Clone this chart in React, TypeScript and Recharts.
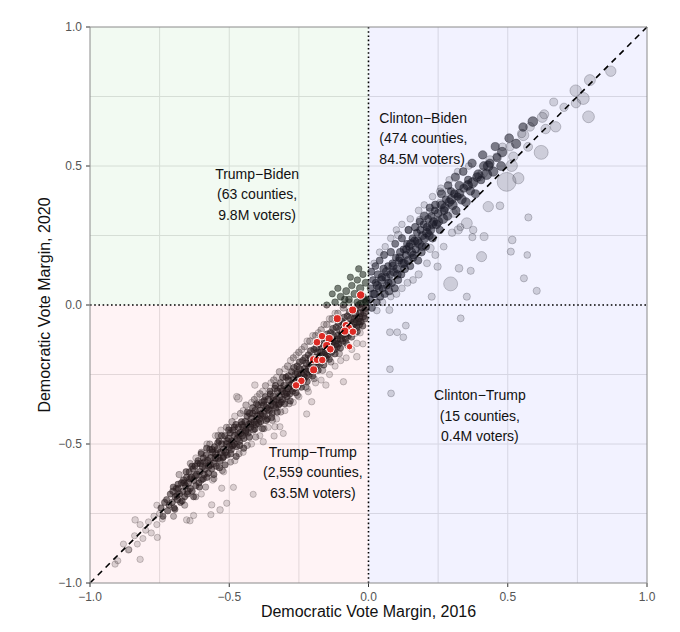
import React from 'react';
import {
  ScatterChart,
  Scatter,
  XAxis,
  YAxis,
  ZAxis,
  ReferenceArea,
  ReferenceLine,
  ReferenceDot,
} from 'recharts';

// [margin 2016, margin 2020, voters (thousands)]
type Pt = [number, number, number];

const ticks = [-1, -0.5, 0, 0.5, 1];
const gridValues = [-0.75, -0.5, -0.25, 0.25, 0.5, 0.75];

const trumpTrumpCore: Pt[] = [
  [-0.745, -0.73, 12], [-0.738, -0.76, 9], [-0.732, -0.71, 14],
  [-0.725, -0.70, 10], [-0.721, -0.74, 16], [-0.716, -0.72, 11], [-0.712, -0.68, 8],
  [-0.705, -0.71, 13], [-0.702, -0.67, 18], [-0.698, -0.73, 9], [-0.694, -0.69, 15], [-0.690, -0.66, 12],
  [-0.686, -0.70, 20], [-0.683, -0.66, 10], [-0.679, -0.68, 14], [-0.675, -0.71, 8], [-0.671, -0.64, 17],
  [-0.667, -0.67, 12], [-0.664, -0.63, 22], [-0.660, -0.69, 9], [-0.657, -0.65, 16], [-0.653, -0.62, 11], [-0.650, -0.68, 14],
  [-0.647, -0.64, 25], [-0.644, -0.60, 10], [-0.640, -0.66, 13], [-0.636, -0.62, 19], [-0.633, -0.67, 9], [-0.630, -0.59, 15],
  [-0.627, -0.63, 21], [-0.623, -0.58, 12], [-0.620, -0.65, 10], [-0.616, -0.61, 28], [-0.612, -0.56, 14], [-0.609, -0.64, 11],
  [-0.606, -0.60, 18], [-0.603, -0.57, 23], [-0.600, -0.63, 9], [-0.596, -0.58, 30], [-0.593, -0.55, 13], [-0.590, -0.61, 16],
  [-0.587, -0.59, 20], [-0.583, -0.54, 11], [-0.580, -0.62, 14], [-0.577, -0.56, 26], [-0.573, -0.58, 17], [-0.570, -0.52, 12],
  [-0.566, -0.55, 32], [-0.563, -0.59, 10], [-0.560, -0.53, 19], [-0.556, -0.57, 24], [-0.553, -0.51, 13], [-0.550, -0.55, 28],
  [-0.546, -0.58, 11], [-0.543, -0.52, 22], [-0.540, -0.55, 35], [-0.536, -0.49, 15], [-0.533, -0.56, 18], [-0.530, -0.53, 27],
  [-0.527, -0.50, 16], [-0.523, -0.55, 12], [-0.520, -0.52, 30], [-0.516, -0.47, 14], [-0.513, -0.53, 21], [-0.510, -0.50, 25],
  [-0.507, -0.54, 10], [-0.503, -0.48, 19], [-0.500, -0.51, 38], [-0.496, -0.46, 13], [-0.493, -0.52, 17], [-0.490, -0.49, 29],
  [-0.487, -0.45, 15], [-0.483, -0.50, 24], [-0.480, -0.47, 33], [-0.476, -0.43, 12], [-0.473, -0.51, 11], [-0.470, -0.48, 26],
  [-0.467, -0.44, 20], [-0.463, -0.49, 14], [-0.460, -0.46, 36], [-0.456, -0.42, 16], [-0.453, -0.47, 22], [-0.450, -0.44, 27],
  [-0.447, -0.48, 12], [-0.443, -0.42, 25], [-0.440, -0.45, 31], [-0.436, -0.40, 14], [-0.433, -0.46, 19], [-0.430, -0.43, 28],
  [-0.427, -0.39, 17], [-0.423, -0.44, 13], [-0.420, -0.41, 40], [-0.416, -0.37, 15], [-0.413, -0.45, 11], [-0.410, -0.42, 24],
  [-0.407, -0.38, 21], [-0.403, -0.43, 18], [-0.400, -0.40, 34], [-0.396, -0.36, 12], [-0.393, -0.41, 26], [-0.390, -0.38, 29],
  [-0.387, -0.42, 14], [-0.383, -0.35, 20], [-0.380, -0.39, 37], [-0.376, -0.36, 23], [-0.373, -0.40, 16], [-0.370, -0.33, 13],
  [-0.367, -0.37, 32], [-0.363, -0.41, 11], [-0.360, -0.34, 25], [-0.356, -0.38, 28], [-0.353, -0.32, 15], [-0.350, -0.36, 22],
  [-0.346, -0.39, 12], [-0.343, -0.33, 27], [-0.340, -0.36, 42], [-0.336, -0.30, 17], [-0.333, -0.37, 19], [-0.330, -0.34, 30],
  [-0.327, -0.31, 21], [-0.323, -0.36, 14], [-0.320, -0.33, 35], [-0.316, -0.28, 16], [-0.313, -0.35, 12], [-0.310, -0.31, 26],
  [-0.307, -0.34, 18], [-0.303, -0.29, 24], [-0.300, -0.32, 39], [-0.296, -0.26, 13], [-0.293, -0.33, 20], [-0.290, -0.30, 31],
  [-0.287, -0.27, 22], [-0.283, -0.32, 15], [-0.280, -0.29, 44], [-0.276, -0.24, 17], [-0.273, -0.31, 12], [-0.270, -0.27, 28],
  [-0.267, -0.30, 14], [-0.263, -0.25, 26], [-0.260, -0.28, 36], [-0.256, -0.22, 19], [-0.253, -0.29, 21], [-0.250, -0.26, 33],
  [-0.247, -0.23, 24], [-0.243, -0.28, 13], [-0.240, -0.25, 46], [-0.236, -0.20, 16], [-0.233, -0.27, 18], [-0.230, -0.23, 29],
  [-0.227, -0.26, 15], [-0.223, -0.21, 27], [-0.220, -0.24, 38], [-0.216, -0.18, 20], [-0.213, -0.25, 12], [-0.210, -0.21, 32],
  [-0.207, -0.19, 25], [-0.203, -0.24, 17], [-0.200, -0.21, 48], [-0.196, -0.16, 14], [-0.193, -0.23, 22], [-0.190, -0.19, 30],
  [-0.187, -0.22, 16], [-0.183, -0.17, 28], [-0.180, -0.20, 41], [-0.176, -0.14, 19], [-0.173, -0.21, 13], [-0.170, -0.17, 34],
  [-0.167, -0.15, 26], [-0.163, -0.20, 18], [-0.160, -0.18, 50], [-0.156, -0.12, 15], [-0.153, -0.19, 23], [-0.150, -0.15, 31],
  [-0.147, -0.18, 17], [-0.143, -0.13, 29], [-0.140, -0.16, 43], [-0.136, -0.10, 21], [-0.133, -0.17, 14], [-0.130, -0.13, 36],
  [-0.127, -0.11, 27], [-0.123, -0.16, 19], [-0.120, -0.14, 52], [-0.116, -0.08, 16], [-0.113, -0.15, 24], [-0.110, -0.11, 33],
  [-0.107, -0.14, 18], [-0.103, -0.09, 30], [-0.100, -0.12, 45], [-0.096, -0.06, 22], [-0.093, -0.13, 15], [-0.090, -0.09, 38],
  [-0.087, -0.07, 28], [-0.083, -0.12, 20], [-0.080, -0.10, 55], [-0.076, -0.04, 17], [-0.073, -0.11, 25], [-0.070, -0.07, 35],
  [-0.067, -0.10, 19], [-0.063, -0.05, 31], [-0.060, -0.08, 47], [-0.056, -0.02, 23], [-0.053, -0.09, 16], [-0.050, -0.05, 40],
  [-0.047, -0.03, 29], [-0.043, -0.08, 21], [-0.040, -0.06, 58], [-0.036, 0.00, 18], [-0.033, -0.07, 26], [-0.030, -0.03, 37],
  [-0.027, -0.06, 20], [-0.023, -0.01, 32], [-0.020, -0.04, 49], [-0.016, 0.02, 24], [-0.013, -0.05, 17], [-0.010, -0.01, 42],
];

const trumpTrumpFill: Pt[] = [
  [-0.701, -0.655, 11], [-0.695, -0.735, 9], [-0.688, -0.685, 16], [-0.684, -0.645, 12],
  [-0.669, -0.705, 10], [-0.662, -0.640, 18], [-0.655, -0.600, 13], [-0.648, -0.670, 21],
  [-0.641, -0.625, 15], [-0.634, -0.580, 11], [-0.628, -0.690, 9], [-0.622, -0.615, 24],
  [-0.614, -0.570, 14], [-0.607, -0.655, 12], [-0.601, -0.535, 10], [-0.594, -0.625, 19],
  [-0.588, -0.565, 27], [-0.581, -0.515, 13], [-0.575, -0.605, 16], [-0.568, -0.575, 22],
  [-0.561, -0.520, 15], [-0.555, -0.610, 11], [-0.548, -0.535, 29], [-0.541, -0.495, 14],
  [-0.535, -0.585, 17], [-0.528, -0.470, 12], [-0.521, -0.545, 25], [-0.515, -0.575, 13],
  [-0.508, -0.490, 31], [-0.502, -0.450, 14], [-0.495, -0.535, 20], [-0.488, -0.505, 26],
  [-0.482, -0.440, 13], [-0.475, -0.545, 12], [-0.468, -0.465, 30], [-0.462, -0.505, 18],
  [-0.455, -0.430, 16], [-0.448, -0.515, 14], [-0.442, -0.455, 33], [-0.435, -0.385, 12],
  [-0.428, -0.475, 19], [-0.422, -0.425, 28], [-0.415, -0.390, 15], [-0.408, -0.445, 22],
  [-0.402, -0.355, 13], [-0.395, -0.425, 24], [-0.388, -0.395, 35], [-0.381, -0.445, 11],
  [-0.375, -0.345, 18], [-0.368, -0.415, 21], [-0.361, -0.375, 38], [-0.354, -0.310, 14],
  [-0.348, -0.405, 16], [-0.341, -0.345, 31], [-0.334, -0.290, 15], [-0.328, -0.385, 20],
  [-0.321, -0.355, 27], [-0.315, -0.300, 19], [-0.308, -0.260, 13], [-0.301, -0.355, 17],
  [-0.294, -0.315, 36], [-0.288, -0.255, 16], [-0.281, -0.345, 14], [-0.274, -0.285, 29],
  [-0.268, -0.225, 18], [-0.261, -0.315, 21], [-0.254, -0.245, 40], [-0.248, -0.205, 15],
  [-0.241, -0.295, 19], [-0.234, -0.255, 33], [-0.228, -0.190, 17], [-0.221, -0.275, 22],
  [-0.214, -0.230, 42], [-0.208, -0.165, 16], [-0.201, -0.255, 18], [-0.194, -0.205, 35],
  [-0.188, -0.155, 20], [-0.181, -0.235, 15], [-0.174, -0.185, 44], [-0.168, -0.125, 17],
  [-0.161, -0.215, 21], [-0.154, -0.165, 37], [-0.148, -0.105, 19], [-0.141, -0.195, 16],
  [-0.134, -0.145, 46], [-0.128, -0.085, 18], [-0.121, -0.175, 22], [-0.114, -0.125, 39],
  [-0.108, -0.065, 20], [-0.101, -0.155, 15], [-0.094, -0.105, 48], [-0.088, -0.045, 21],
  [-0.081, -0.135, 17], [-0.074, -0.085, 43], [-0.068, -0.025, 22], [-0.061, -0.115, 18],
  [-0.054, -0.065, 52], [-0.048, -0.015, 24], [-0.041, -0.095, 19], [-0.034, -0.045, 45],
  [-0.028, 0.005, 26], [-0.021, -0.075, 20], [-0.014, -0.025, 50], [-0.007, 0.015, 28],
];

const trumpTrumpEdge: Pt[] = [
  [-0.68, -0.61, 14], [-0.64, -0.57, 11], [-0.60, -0.53, 16], [-0.57, -0.50, 12], [-0.54, -0.47, 18],
  [-0.51, -0.44, 13], [-0.49, -0.42, 20], [-0.46, -0.39, 12], [-0.44, -0.36, 17], [-0.41, -0.34, 14],
  [-0.39, -0.32, 22], [-0.37, -0.29, 13], [-0.34, -0.27, 19], [-0.32, -0.24, 15], [-0.29, -0.22, 24],
  [-0.27, -0.19, 14], [-0.25, -0.17, 20], [-0.23, -0.15, 16], [-0.21, -0.13, 26], [-0.19, -0.11, 15],
  [-0.17, -0.09, 22], [-0.15, -0.07, 18], [-0.13, -0.05, 28], [-0.11, -0.03, 17], [-0.09, -0.01, 24],
  [-0.07, 0.01, 20],
  [-0.70, -0.76, 10], [-0.66, -0.72, 12], [-0.62, -0.69, 9], [-0.585, -0.655, 13], [-0.555, -0.625, 11],
  [-0.525, -0.595, 14], [-0.495, -0.565, 10], [-0.465, -0.535, 13], [-0.435, -0.505, 11], [-0.405, -0.475, 15],
  [-0.375, -0.445, 10], [-0.345, -0.415, 14], [-0.315, -0.385, 12], [-0.285, -0.355, 16], [-0.255, -0.325, 11],
  [-0.225, -0.295, 15], [-0.195, -0.265, 13], [-0.165, -0.235, 17], [-0.135, -0.205, 12], [-0.105, -0.175, 16],
  [-0.075, -0.145, 14],
];

const trumpTrumpHalo: Pt[] = [
  [-0.90, -0.92, 8], [-0.88, -0.86, 10], [-0.86, -0.88, 6], [-0.84, -0.83, 9], [-0.83, -0.86, 7],
  [-0.82, -0.79, 12], [-0.81, -0.84, 8], [-0.80, -0.81, 10], [-0.79, -0.78, 9], [-0.78, -0.82, 11],
  [-0.77, -0.76, 14], [-0.76, -0.79, 10], [-0.75, -0.75, 12], [-0.76, -0.72, 9], [-0.74, -0.77, 8],
  [-0.62, -0.55, 10], [-0.58, -0.50, 14], [-0.55, -0.47, 9], [-0.53, -0.45, 12], [-0.50, -0.44, 11],
  [-0.48, -0.40, 16], [-0.45, -0.38, 13], [-0.42, -0.35, 10], [-0.40, -0.33, 18], [-0.38, -0.31, 12],
  [-0.35, -0.28, 15], [-0.33, -0.26, 11], [-0.30, -0.23, 14], [-0.28, -0.20, 17], [-0.26, -0.18, 12],
  [-0.24, -0.16, 15], [-0.22, -0.13, 19], [-0.20, -0.11, 13], [-0.18, -0.10, 16], [-0.16, -0.07, 12],
  [-0.14, -0.05, 18], [-0.12, -0.03, 14],
  [-0.60, -0.68, 9], [-0.56, -0.63, 11], [-0.52, -0.60, 10], [-0.48, -0.56, 12], [-0.45, -0.53, 9],
  [-0.42, -0.50, 11], [-0.39, -0.47, 8], [-0.36, -0.44, 10], [-0.33, -0.41, 12], [-0.30, -0.38, 9],
  [-0.27, -0.35, 11], [-0.25, -0.33, 13], [-0.22, -0.30, 10], [-0.19, -0.28, 12], [-0.17, -0.27, 9],
  [-0.14, -0.25, 11], [-0.12, -0.22, 10], [-0.10, -0.20, 12], [-0.08, -0.19, 9], [-0.06, -0.16, 11],
  [-0.03, -0.10, 13], [-0.02, -0.14, 9],
  [-0.910, -0.932, 12], [-0.820, -0.915, 14], [-0.862, -0.881, 16], [-0.838, -0.773, 18], [-0.758, -0.836, 12],
  [-0.653, -0.773, 15], [-0.641, -0.776, 14], [-0.566, -0.754, 12], [-0.533, -0.737, 18], [-0.628, -0.757, 12],
  [-0.414, -0.681, 10], [-0.563, -0.719, 14], [-0.509, -0.713, 12], [-0.485, -0.656, 10], [-0.527, -0.659, 12],
  [-0.378, -0.492, 15], [-0.336, -0.438, 12], [-0.318, -0.438, 12], [-0.306, -0.462, 10], [-0.473, -0.330, 22],
  [-0.467, -0.336, 45], [-0.408, -0.288, 18], [-0.222, -0.392, 12], [-0.204, -0.348, 14], [-0.153, -0.288, 16],
  [-0.216, -0.312, 12], [-0.339, -0.471, 12], [-0.090, -0.276, 14], [-0.042, -0.186, 20], [-0.042, -0.138, 18],
  [-0.048, -0.102, 16],
];

const trumpBiden: Pt[] = [
  [-0.12, 0.01, 20], [-0.10, 0.03, 25], [-0.09, 0.00, 15], [-0.08, 0.05, 30], [-0.07, 0.02, 22],
  [-0.06, 0.07, 18], [-0.05, 0.04, 35], [-0.04, 0.01, 28], [-0.04, 0.09, 16], [-0.03, 0.06, 40],
  [-0.02, 0.03, 24], [-0.02, 0.11, 14], [-0.01, 0.08, 30], [-0.01, 0.01, 26], [-0.15, 0.00, 12],
  [-0.13, 0.04, 10], [-0.11, 0.06, 14], [-0.065, 0.10, 12], [-0.035, 0.13, 16], [-0.085, 0.02, 20],
];

const clintonBidenCore: Pt[] = [
  [0.004, 0.02, 40], [0.008, 0.06, 28], [0.012, -0.01, 34], [0.016, 0.09, 22],
  [0.022, 0.04, 45], [0.026, 0.08, 30], [0.030, 0.01, 26], [0.034, 0.11, 38], [0.038, 0.06, 52],
  [0.042, 0.03, 33], [0.046, 0.09, 60], [0.050, 0.06, 27], [0.054, 0.13, 41], [0.058, 0.04, 36],
  [0.062, 0.10, 55], [0.066, 0.07, 31], [0.070, 0.14, 24], [0.074, 0.05, 47], [0.078, 0.11, 39],
  [0.082, 0.08, 62], [0.086, 0.15, 29], [0.090, 0.12, 50], [0.094, 0.06, 35], [0.098, 0.17, 26],
  [0.102, 0.13, 58], [0.106, 0.09, 40], [0.110, 0.16, 33], [0.114, 0.19, 44], [0.118, 0.11, 30],
  [0.122, 0.15, 65], [0.126, 0.20, 28], [0.130, 0.13, 48], [0.134, 0.18, 37], [0.138, 0.22, 25],
  [0.142, 0.16, 56], [0.146, 0.21, 42], [0.150, 0.14, 31], [0.154, 0.19, 70], [0.158, 0.24, 27],
  [0.162, 0.18, 46], [0.166, 0.23, 60], [0.170, 0.20, 35], [0.174, 0.26, 30], [0.178, 0.16, 40],
  [0.182, 0.22, 75], [0.186, 0.27, 33], [0.190, 0.19, 44], [0.194, 0.25, 52], [0.198, 0.29, 28],
  [0.202, 0.24, 63], [0.206, 0.21, 38], [0.210, 0.28, 47], [0.214, 0.31, 30], [0.218, 0.25, 55],
  [0.222, 0.27, 80], [0.226, 0.32, 34], [0.230, 0.24, 42], [0.234, 0.30, 58], [0.238, 0.34, 29],
  [0.244, 0.29, 68], [0.250, 0.33, 45], [0.256, 0.27, 37], [0.262, 0.36, 52], [0.268, 0.31, 90],
  [0.272, 0.34, 48], [0.278, 0.38, 35], [0.284, 0.32, 62], [0.290, 0.37, 74], [0.296, 0.41, 31],
  [0.302, 0.36, 85], [0.308, 0.40, 44], [0.314, 0.34, 56], [0.320, 0.39, 38], [0.326, 0.43, 66],
  [0.334, 0.38, 95], [0.342, 0.42, 50], [0.350, 0.37, 72], [0.358, 0.45, 41], [0.366, 0.41, 60],
  [0.374, 0.44, 110], [0.384, 0.40, 55], [0.394, 0.47, 80], [0.404, 0.45, 46], [0.414, 0.50, 70],
  [0.424, 0.47, 120], [0.436, 0.51, 60], [0.448, 0.48, 90], [0.462, 0.53, 52], [0.476, 0.50, 75],
  [0.010, 0.12, 30], [0.018, 0.04, 48], [0.025, 0.14, 26], [0.032, 0.07, 55], [0.040, 0.16, 29],
  [0.048, 0.10, 44], [0.056, 0.18, 32], [0.064, 0.12, 58], [0.072, 0.08, 36], [0.080, 0.19, 41],
  [0.088, 0.14, 63], [0.096, 0.22, 30], [0.104, 0.11, 45], [0.112, 0.17, 52], [0.120, 0.24, 34],
  [0.128, 0.15, 60], [0.136, 0.20, 47], [0.144, 0.27, 31], [0.152, 0.22, 66], [0.160, 0.17, 38],
  [0.168, 0.28, 43], [0.176, 0.23, 72], [0.184, 0.30, 35], [0.192, 0.21, 49], [0.200, 0.32, 57],
  [0.210, 0.26, 78], [0.220, 0.35, 40], [0.230, 0.29, 62], [0.240, 0.36, 46], [0.250, 0.30, 85],
  [0.262, 0.40, 50], [0.274, 0.35, 70], [0.286, 0.43, 44], [0.298, 0.38, 92], [0.312, 0.46, 55],
  [0.326, 0.40, 80], [0.340, 0.48, 48], [0.356, 0.43, 100], [0.372, 0.51, 58], [0.390, 0.46, 75],
  [0.410, 0.54, 62], [0.430, 0.50, 110], [0.455, 0.57, 55], [0.480, 0.55, 95], [0.505, 0.60, 70],
  [0.530, 0.58, 85], [0.555, 0.64, 65], [0.590, 0.66, 100],
];

const clintonBidenHalo: Pt[] = [
  [0.03, -0.02, 20], [0.05, 0.01, 25], [0.08, 0.03, 18], [0.10, 0.04, 30], [0.12, 0.06, 22],
  [0.14, 0.08, 28], [0.16, 0.09, 24], [0.18, 0.11, 35], [0.21, 0.15, 26], [0.24, 0.18, 30],
  [0.27, 0.21, 24], [0.30, 0.26, 40], [0.33, 0.28, 28],
  [0.02, 0.15, 18], [0.04, 0.19, 20], [0.06, 0.21, 16], [0.08, 0.24, 22], [0.10, 0.27, 19],
  [0.12, 0.29, 17], [0.15, 0.31, 21], [0.18, 0.34, 24], [0.20, 0.36, 18], [0.23, 0.39, 20],
  [0.26, 0.42, 22], [0.29, 0.45, 25], [0.32, 0.48, 19], [0.36, 0.50, 23],
  [0.870, 0.841, 120], [0.795, 0.809, 140], [0.744, 0.771, 160], [0.771, 0.743, 180], [0.745, 0.726, 90],
  [0.790, 0.677, 170], [0.665, 0.730, 50], [0.702, 0.711, 60], [0.624, 0.675, 110], [0.631, 0.686, 80],
  [0.672, 0.641, 120], [0.636, 0.633, 90], [0.580, 0.641, 70], [0.556, 0.611, 140], [0.550, 0.617, 60],
  [0.620, 0.549, 260], [0.573, 0.569, 75], [0.481, 0.569, 45], [0.508, 0.569, 50], [0.520, 0.534, 85],
  [0.514, 0.501, 160], [0.496, 0.443, 520], [0.538, 0.456, 150], [0.460, 0.534, 40], [0.436, 0.522, 55],
  [0.410, 0.474, 95], [0.400, 0.462, 70], [0.376, 0.443, 60], [0.358, 0.432, 50], [0.430, 0.354, 120],
  [0.472, 0.357, 45], [0.574, 0.315, 30], [0.257, 0.408, 35], [0.287, 0.408, 40], [0.311, 0.402, 55],
  [0.257, 0.366, 45], [0.263, 0.336, 60], [0.305, 0.330, 50], [0.353, 0.294, 140], [0.376, 0.270, 40],
  [0.322, 0.270, 55], [0.221, 0.336, 35], [0.185, 0.306, 40], [0.215, 0.282, 65], [0.143, 0.270, 30],
  [0.107, 0.252, 45], [0.373, 0.244, 30], [0.415, 0.246, 50], [0.516, 0.234, 45], [0.511, 0.192, 30],
  [0.570, 0.180, 20], [0.406, 0.174, 110], [0.325, 0.132, 45], [0.367, 0.123, 30], [0.248, 0.138, 35],
  [0.221, 0.204, 60], [0.295, 0.076, 260], [0.558, 0.096, 30], [0.604, 0.051, 30], [0.353, 0.030, 30],
  [0.227, 0.030, 30], [0.075, -0.018, 30],
];

const clintonTrump: Pt[] = [
  [0.331, -0.048, 25], [0.077, -0.098, 25], [0.103, -0.098, 25], [0.134, -0.074, 25],
  [0.125, -0.116, 22], [0.077, -0.231, 22], [0.081, -0.318, 22],
];

const redCounties: Pt[] = [
  [-0.028, 0.036, 60], [-0.057, -0.018, 50], [-0.112, -0.049, 50], [-0.081, -0.073, 45],
  [-0.071, -0.082, 45], [-0.085, -0.094, 50], [-0.056, -0.096, 40], [-0.068, -0.150, 15],
  [-0.167, -0.112, 40], [-0.141, -0.121, 55], [-0.185, -0.134, 45], [-0.150, -0.146, 55],
  [-0.137, -0.159, 45], [-0.197, -0.197, 55], [-0.185, -0.197, 40], [-0.166, -0.198, 40],
  [-0.197, -0.233, 50], [-0.241, -0.273, 40], [-0.260, -0.289, 40],
];

const toRows = (pts: Pt[]) => pts.map(([x, y, v]) => ({ x, y, v }));

const fmt = (v: number) => (v < 0 ? '\u2212' : '') + Math.abs(v).toFixed(1);

const QuadLabel = (lines: string[], anchor: 'start' | 'middle') => (props: any) => {
  const vb = props.viewBox || {};
  const x = (vb.x ?? 0) + (vb.width ?? 0) / 2;
  const y = (vb.y ?? 0) + (vb.height ?? 0) / 2;
  return (
    <text x={x} y={y} textAnchor={anchor} fontSize={14} fill="#111" fontFamily="Liberation Sans, Arial, sans-serif">
      {lines.map((l, i) => (
        <tspan key={i} x={x} dy={i === 0 ? 0 : 20.6}>{l}</tspan>
      ))}
    </text>
  );
};

const grayStyle = { fill: '#1c1c1c', fillOpacity: 0.17, stroke: '#1c1c1c', strokeOpacity: 0.32, strokeWidth: 0.7 };
const edgeStyle = { fill: '#1c1c1c', fillOpacity: 0.3, stroke: '#1c1c1c', strokeOpacity: 0.4, strokeWidth: 0.7 };
const coreStyle = { fill: '#1a1a1a', fillOpacity: 0.55, stroke: '#1a1a1a', strokeOpacity: 0.55, strokeWidth: 0.7 };

export default function App() {
  const font = 'Liberation Sans, Arial, sans-serif';
  return (
    <div style={{ position: 'absolute', left: 0, top: 0, background: '#fff' }}>
      <ScatterChart width={680} height={632} margin={{ top: 27, right: 33, bottom: 0, left: 0 }}>
        <XAxis
          type="number"
          dataKey="x"
          domain={[-1, 1]}
          ticks={ticks}
          tickFormatter={fmt}
          height={49}
          axisLine={false}
          tickSize={4}
          tickMargin={5}
          tickLine={{ stroke: '#333' }}
          tick={{ fill: '#555', fontSize: 12, fontFamily: font }}
          allowDataOverflow
          label={{ value: 'Democratic Vote Margin, 2016', position: 'insideBottom', offset: 15, fill: '#111', fontSize: 16, fontFamily: font }}
        />
        <YAxis
          type="number"
          dataKey="y"
          domain={[-1, 1]}
          ticks={ticks}
          tickFormatter={fmt}
          width={90}
          axisLine={false}
          tickSize={4}
          tickMargin={4}
          tickLine={{ stroke: '#333' }}
          tick={{ fill: '#555', fontSize: 12, fontFamily: font }}
          allowDataOverflow
          label={{ value: 'Democratic Vote Margin, 2020', angle: -90, position: 'center', dx: -1, fill: '#111', fontSize: 16, fontFamily: font }}
        />
        <ZAxis type="number" dataKey="v" domain={[0, 600]} range={[26, 320]} />

        {gridValues.map((g) => (
          <ReferenceLine key={'gx' + g} x={g} stroke="#e2e2e2" strokeWidth={1} />
        ))}
        {gridValues.map((g) => (
          <ReferenceLine key={'gy' + g} y={g} stroke="#e2e2e2" strokeWidth={1} />
        ))}

        <Scatter data={toRows(trumpTrumpHalo)} {...grayStyle} isAnimationActive={false} />
        <Scatter data={toRows(clintonBidenHalo)} {...grayStyle} isAnimationActive={false} />
        <Scatter data={toRows(clintonTrump)} {...grayStyle} isAnimationActive={false} />
        <Scatter data={toRows(trumpTrumpEdge)} {...edgeStyle} isAnimationActive={false} />
        <Scatter data={toRows(trumpBiden)} {...coreStyle} isAnimationActive={false} />
        <Scatter data={toRows(clintonBidenCore)} {...coreStyle} isAnimationActive={false} />
        <Scatter data={toRows(trumpTrumpFill)} {...coreStyle} isAnimationActive={false} />
        <Scatter data={toRows(trumpTrumpCore)} {...coreStyle} isAnimationActive={false} />

        <ReferenceArea x1={-1} x2={0} y1={0} y2={1} fill="#00a000" fillOpacity={0.05} stroke="none" zIndex={650} />
        <ReferenceArea x1={0} x2={1} y1={-1} y2={1} fill="#0000ff" fillOpacity={0.05} stroke="none" zIndex={650} />
        <ReferenceArea x1={-1} x2={0} y1={-1} y2={0} fill="#ff2040" fillOpacity={0.055} stroke="none" zIndex={650} />

        <Scatter data={toRows(redCounties)} fill="#dc2a24" stroke="#fff" strokeWidth={1} isAnimationActive={false} zIndex={700} />

        <ReferenceLine x={0} stroke="#000" strokeWidth={1.6} strokeDasharray="1.6 2.6" zIndex={800} />
        <ReferenceLine y={0} stroke="#000" strokeWidth={1.6} strokeDasharray="1.6 2.6" zIndex={800} />
        <ReferenceLine segment={[{ x: -1, y: -1 }, { x: 1, y: 1 }]} stroke="#000" strokeWidth={1.6} strokeDasharray="6 5" zIndex={800} />
        <ReferenceArea x1={-1} x2={1} y1={-1} y2={1} fill="none" stroke="#8a8a8a" strokeWidth={1} zIndex={800} />

        <ReferenceDot x={-0.4} y={0.455} r={0} fill="none" stroke="none" zIndex={900}
          label={{ content: QuadLabel(['Trump\u2212Biden', '(63 counties,', '9.8M voters)'], 'middle') }} />
        <ReferenceDot x={0.039} y={0.656} r={0} fill="none" stroke="none" zIndex={900}
          label={{ content: QuadLabel(['Clinton\u2212Biden', '(474 counties,', '84.5M voters)'], 'start') }} />
        <ReferenceDot x={0.4} y={-0.342} r={0} fill="none" stroke="none" zIndex={900}
          label={{ content: QuadLabel(['Clinton\u2212Trump', '(15 counties,', '0.4M voters)'], 'middle') }} />
        <ReferenceDot x={-0.2} y={-0.546} r={0} fill="none" stroke="none" zIndex={900}
          label={{ content: QuadLabel(['Trump\u2212Trump', '(2,559 counties,', '63.5M voters)'], 'middle') }} />
      </ScatterChart>
    </div>
  );
}
